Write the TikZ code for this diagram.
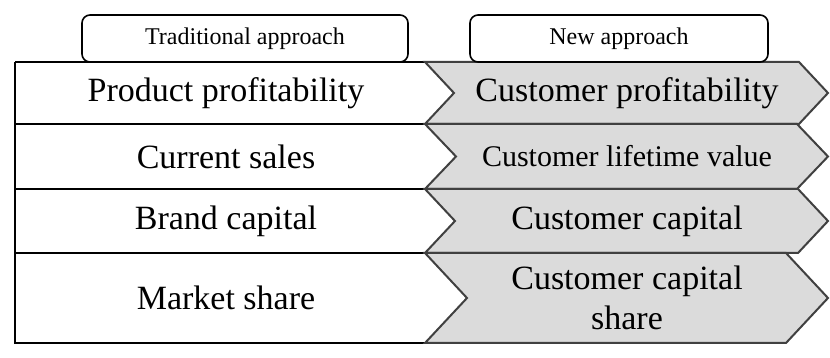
\documentclass[tikz,border=0pt]{standalone}
\usepackage{fontspec}
\setmainfont{Liberation Serif}
\usepackage{xcolor}
\definecolor{chevgray}{gray}{0.86}

\begin{document}
\begin{tikzpicture}[x=0.5pt,y=0.5pt,
    head/.style={draw, line width=0.8pt, rounded corners=4pt, minimum height=23.5pt,
      inner sep=0pt, font=\fontsize{12}{14}\selectfont},
    big/.style={font=\fontsize{17}{20}\selectfont, align=center},
    chev/.style={draw=black!75, fill=chevgray, line width=1pt, line join=miter}]
    \useasboundingbox (0,0) rectangle (830,358);
    \draw[line width=1pt] (15,296) -- (425,296);
    \draw[line width=1pt] (15,234) -- (425,234);
    \draw[line width=1pt] (15,169) -- (425,169);
    \draw[line width=1pt] (15,105) -- (425,105);
    \draw[line width=1pt] (425,15) -- (15,15) -- (15,296);
    \draw[chev] (425,296) -- (799,296) -- (828,265) -- (799,234) -- (425,234) -- (454,265) -- cycle;
    \draw[chev] (425,234) -- (797,234) -- (828,201.5) -- (797,169) -- (425,169) -- (456,201.5) -- cycle;
    \draw[chev] (425,169) -- (798,169) -- (828,137) -- (798,105) -- (425,105) -- (455,137) -- cycle;
    \draw[chev] (425,105) -- (786,105) -- (828,60) -- (786,15) -- (425,15) -- (467,60) -- cycle;
    \node[head, fill=white, minimum width=163pt] (trad) at (245,319.5) {Traditional approach};
    \node[head, fill=white, minimum width=149pt] (new) at (619,319.5) {New approach};
    \node[big] (pp) at (226,265) {Product profitability};
    \node[big] (cs) at (226,201.5) {Current sales};
    \node[big] (bc) at (226,137) {Brand capital};
    \node[big] (ms) at (226,60) {Market share};
    \node[big] (cp) at (627,265) {Customer profitability};
    \node[big, font=\fontsize{15}{18}\selectfont] (clv) at (627,201.5) {Customer lifetime value};
    \node[big] (cc) at (627,137) {Customer capital};
    \node[big] (ccs) at (627,60) {Customer capital\\share};
  \end{tikzpicture}
\end{document}
